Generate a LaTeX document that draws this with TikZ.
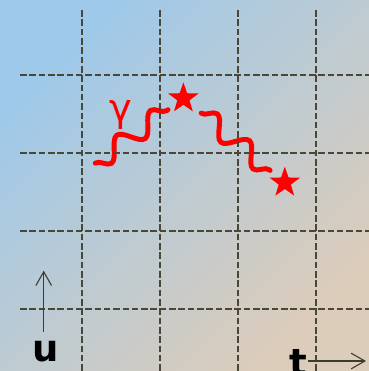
\documentclass[tikz,border=0pt]{standalone}
\usepackage{fontspec}
\newfontfamily\lblfont{DejaVu Sans}
\usetikzlibrary{shapes.geometric,decorations.pathmorphing,arrows.meta,calc}
\definecolor{ciel}{RGB}{158,201,234}
\definecolor{sable}{RGB}{220,204,186}
\definecolor{grille}{RGB}{72,72,56}
\definecolor{axe}{RGB}{60,60,45}
\begin{document}
\begin{tikzpicture}[
    grillage/.style={grille, line width=0.75pt, dash pattern=on 2.4pt off 1pt},
    photon/.style={red, line width=1.8pt, line cap=round, decorate,
        decoration={snake, segment length=0.535cm, amplitude=0.125cm}},
    etoile/.style={star, star points=5, star point ratio=2.5, fill=red, inner sep=0pt, minimum size=0.41cm},
    axefleche/.style={axe, line width=0.4pt, -{Straight Barb[length=5pt,width=5.7pt]}},
    lettre/.style={font=\lblfont\bfseries\fontsize{13.5}{16}\selectfont, inner sep=0pt, anchor=base}
]
    \useasboundingbox (-1.0513,-0.7949) rectangle (3.6795,3.9615);
    % Fond
    \shade[top color=ciel, bottom color=sable, shading angle=45] (-1.0513,-0.7949) rectangle (3.6795,3.9615);

    % Etoiles et photons
    \node[etoile] (e1) at (1.30, 2.70) {};
    \node[etoile] (e2) at (2.60, 1.62) {};
    \coordinate (source) at (0.17, 1.87);
    \draw[photon, decoration={mirror}] (source) -- ($(e1)!0.245cm!(source)$);
    \draw[photon] ($(e1)!0.295cm!(e2)$) -- ($(e2)!0.245cm!(e1)$);
    \node[red, font=\lblfont\fontsize{14}{16}\selectfont, inner sep=0pt, anchor=base] (gamma) at (0.5, 2.41) {γ};

    % Grille
    \foreach \i in {0,...,3} {
        \draw[grillage] (\i, 3.833) -- (\i, -0.795);
        \draw[grillage] (-0.795, \i) -- (3.6795, \i);
    }

    % Axes
    \node[lettre] (u) at (-0.462, -0.676) {u};
    \node[lettre] (t) at (2.78, -0.853) {t};
    \coordinate (upointe) at (-0.491, 0.491);
    \coordinate (tpointe) at (3.641, -0.667);
    \coordinate (udepart) at ([yshift=3.3pt]u.north);
    \draw[axefleche] (udepart -| upointe) -- (upointe);
    \draw[axefleche] (t.east |- tpointe) -- (tpointe);
\end{tikzpicture}
\end{document}
